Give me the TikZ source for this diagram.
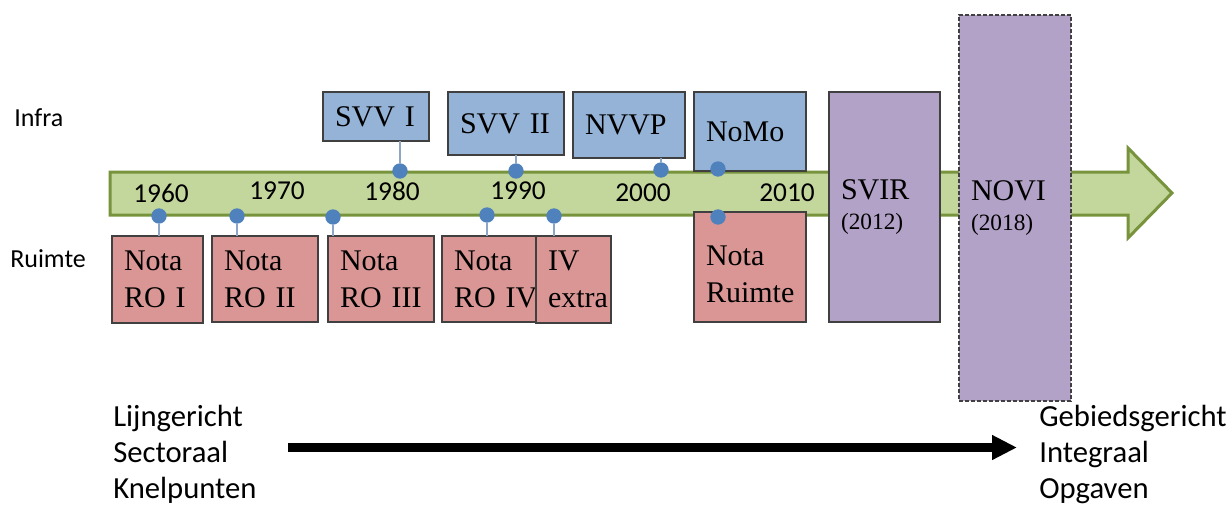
\documentclass[tikz,border=0pt]{standalone}
\usepackage{fontspec}
\setmainfont{Liberation Serif}
\newfontfamily\calibri{Carlito}
\usetikzlibrary{arrows.meta}

\definecolor{infrablue}{HTML}{95B3D7}
\definecolor{ruimtered}{HTML}{D99694}
\definecolor{visionpurple}{HTML}{B3A2C7}
\definecolor{barfill}{HTML}{C3D69B}
\definecolor{barline}{HTML}{77933C}
\definecolor{dotblue}{HTML}{4F81BD}
\definecolor{stemgray}{HTML}{8EA6C6}
\definecolor{boxline}{HTML}{404040}

\tikzset{
  notebox/.style={draw=boxline, line width=0.9pt, anchor=north west, outer sep=0pt,
    inner xsep=9pt, inner ysep=0pt, align=left, font=\fontsize{22.5}{27.75}\selectfont},
  infrabox/.style={notebox, fill=infrablue},
  ruimtebox/.style={notebox, fill=ruimtered},
  visionbox/.style={notebox, fill=visionpurple, font=\fontsize{22.5}{23}\selectfont},
  milestone/.style={circle, fill=dotblue, inner sep=0pt, minimum size=11.5pt},
  stem/.style={draw=stemgray, line width=1.1pt},
  yearlabel/.style={font=\calibri\fontsize{20.5}{24}\selectfont, anchor=base, inner sep=0pt},
  sidelabel/.style={font=\calibri\fontsize{19.5}{23}\selectfont, anchor=base west, inner sep=0pt},
  shiftlabel/.style={font=\calibri\fontsize{23}{27}\selectfont, anchor=north west,
    inner sep=0pt, align=left},
  shiftarrow/.style={line width=6.75pt, -{Triangle[length=18.75pt, width=17.5pt]}}
}

\begin{document}
\begin{tikzpicture}[x=0.75pt, y=-0.75pt]
    \useasboundingbox (0,0) rectangle (1231,504);

    % Timeline arrow
    \draw[barline, fill=barfill, line width=2.25pt, line join=miter]
        (110,172) -- (1128,172) -- (1128,148) -- (1172,193) -- (1128,238)
        -- (1128,215) -- (110,215) -- cycle;

    % Side labels
    \node[sidelabel] (infra) at (14,126) {Infra};
    \node[sidelabel] (ruimte) at (10,267) {Ruimte};

    % Infra notes
    \node[infrabox, text width=61.5pt, minimum height=36.75pt] (svv1) at (323,92) {SVV~I};
    \node[infrabox, text width=69pt, minimum height=47.25pt] (svv2) at (448,92) {SVV~II};
    \node[infrabox, text width=66pt, minimum height=49.5pt] (nvvp) at (573,92) {NVVP};
    \node[infrabox, text width=66pt, minimum height=59.25pt] (nomo) at (694,92) {NoMo};

    % Ruimte notes
    \node[ruimtebox, text width=50.25pt, minimum height=65.25pt] (ro1) at (112,236) {Nota\\RO~I};
    \node[ruimtebox, text width=61.5pt, minimum height=64.5pt] (ro2) at (212,236) {Nota\\RO~II};
    \node[ruimtebox, text width=61.5pt, minimum height=64.5pt] (ro3) at (328,236) {Nota\\RO~III};
    \node[ruimtebox, text width=52.5pt, minimum height=64.5pt] (ro4) at (442,236) {Nota\\RO~IV};
    \node[ruimtebox, text width=38.25pt, minimum height=65.25pt] (ro4x) at (536,236) {IV\\extra};
    \node[ruimtebox, text width=66pt, minimum height=82.5pt, text depth=16.5pt] (notaruimte) at (694,212) {Nota\\Ruimte};

    % Visions
    \node[visionbox, text width=65.25pt, minimum height=172.5pt] (svir) at (829,92)
        {SVIR\\{\fontsize{17.5}{23}\selectfont (2012)}};
    \node[visionbox, dash pattern=on 3pt off 1.5pt, text width=66pt, minimum height=289.5pt] (novi) at (959,15)
        {NOVI\\{\fontsize{17.5}{23}\selectfont (2018)}};

    % Milestones above
    \node[milestone] (dsvv1) at (400,171) {};
    \node[milestone] (dsvv2) at (516,171) {};
    \node[milestone] (dnvvp) at (661,170) {};
    \node[milestone] (dnomo) at (718,169) {};
    \draw[stem] (svv1.south -| dsvv1) -- (dsvv1);
    \draw[stem] (svv2.south -| dsvv2) -- (dsvv2);
    \draw[stem] (nvvp.south -| dnvvp) -- (dnvvp);

    % Milestones below
    \node[milestone] (dro1) at (159,216) {};
    \node[milestone] (dro2) at (237,216) {};
    \node[milestone] (dro3) at (333,217) {};
    \node[milestone] (dro4) at (487,215) {};
    \node[milestone] (dro4x) at (554,216) {};
    \node[milestone] (dnotaruimte) at (718,217) {};
    \draw[stem] (dro1) -- (dro1 |- ro1.north);
    \draw[stem] (dro2) -- (dro2 |- ro2.north);
    \draw[stem] (dro3) -- (dro3 |- ro3.north);
    \draw[stem] (dro4) -- (dro4 |- ro4.north);
    \draw[stem] (dro4x) -- (dro4x |- ro4x.north);

    % Years
    \node[yearlabel] (y1960) at (161,202) {1960};
    \node[yearlabel] (y1970) at (277,199) {1970};
    \node[yearlabel] (y1980) at (392,200) {1980};
    \node[yearlabel] (y1990) at (518,199) {1990};
    \node[yearlabel] (y2000) at (643,201) {2000};
    \node[yearlabel] (y2010) at (787,201) {2010};

    % Shift in approach
    \node[shiftlabel] (fromtext) at (113,405) {Lijngericht\\Sectoraal\\Knelpunten};
    \node[shiftlabel] (totext) at (1039,405) {Gebiedsgericht\\Integraal\\Opgaven};
    \coordinate (shiftstart) at (288,447.5);
    \coordinate (shiftend) at (1017,447.5);
    \draw[shiftarrow] (shiftstart) -- (shiftend);

\end{tikzpicture}
\end{document}
